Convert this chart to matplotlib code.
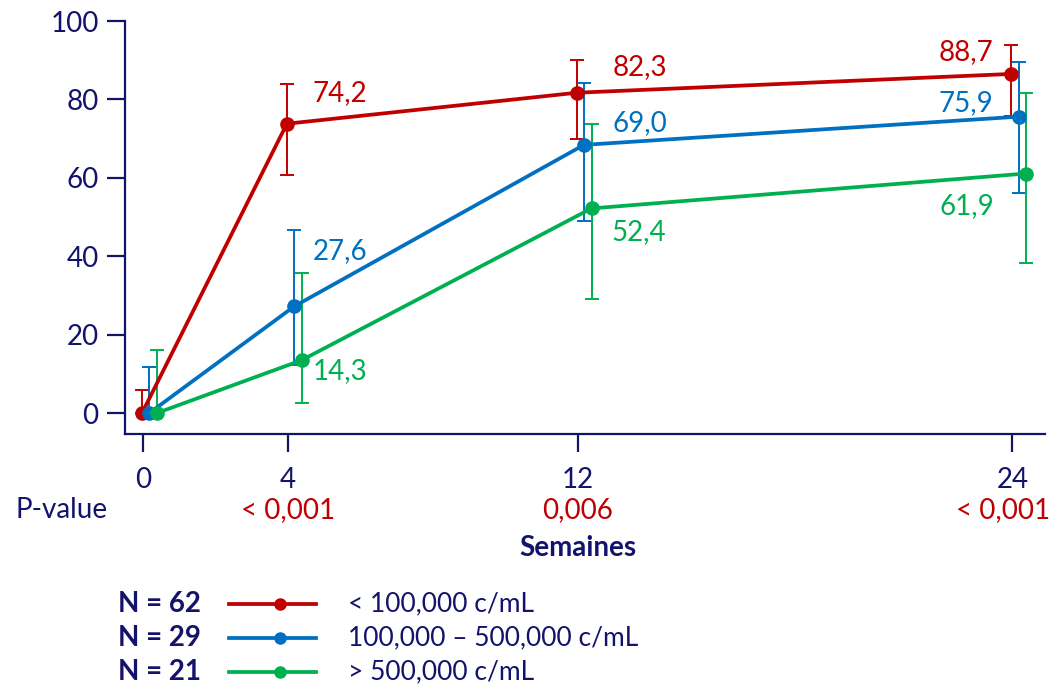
import matplotlib
matplotlib.use("Agg")
import matplotlib.pyplot as plt
from matplotlib.lines import Line2D

# ---- data ----
weeks = [0, 4, 12, 24]
week_labels = ["0", "4", "12", "24"]
p_values = ["", "< 0,001", "0,006", "< 0,001"]

series_names = ["< 100,000 c/mL", "100,000 \u2013 500,000 c/mL", "> 500,000 c/mL"]
series_n = ["N = 62", "N = 29", "N = 21"]

red_vals = [0, 73.8, 81.7, 86.5]
red_hi = [6.0, 84.0, 90.1, 93.9]
red_lo = [0, 60.8, 70.0, 75.8]
red_labels = ["", "74,2", "82,3", "88,7"]

blue_vals = [0, 27.2, 68.4, 75.6]
blue_hi = [11.8, 46.6, 84.2, 89.6]
blue_lo = [0, 12.2, 48.9, 56.2]
blue_labels = ["", "27,6", "69,0", "75,9"]

green_vals = [0, 13.5, 52.2, 61.1]
green_hi = [16.1, 35.6, 73.8, 81.7]
green_lo = [0, 2.5, 29.0, 38.2]
green_labels = ["", "14,3", "52,4", "61,9"]

# ---- style ----
NAVY = "#13136B"
RED = "#C00000"
BLUE = "#0070C0"
GREEN = "#00B050"
FONT = ["Lato", "DejaVu Sans"]
FS = 20
plt.rcParams["font.family"] = FONT

series = [
    dict(vals=red_vals, hi=red_hi, lo=red_lo, labels=red_labels, color=RED, dx=-0.03,
         offs=[None, (26, 31), (36, 26), (-18, 22)], ha=[None, "left", "left", "right"]),
    dict(vals=blue_vals, hi=blue_hi, lo=blue_lo, labels=blue_labels, color=BLUE, dx=0.17,
         offs=[None, (19, 55), (29, 22), (-25, 14)], ha=[None, "left", "left", "right"]),
    dict(vals=green_vals, hi=green_hi, lo=green_lo, labels=green_labels, color=GREEN, dx=0.38,
         offs=[None, (11, -11), (20, -24), (-32, -33)], ha=[None, "left", "left", "right"]),
]
p_shift = [0, 0, 0, -9]

fig = plt.figure(figsize=(10.55, 6.86), dpi=100)
ax = fig.add_axes([125 / 1055, 1 - 434 / 686, (1045 - 125) / 1055, (434 - 21) / 686])

for s in series:
    xs = [w + s["dx"] for w in weeks]
    yerr = [[v - l for v, l in zip(s["vals"], s["lo"])],
            [h - v for v, h in zip(s["vals"], s["hi"])]]
    ax.errorbar(xs, s["vals"], yerr=yerr, fmt="none", ecolor=s["color"],
                elinewidth=1.4, capsize=4.7, capthick=1.4, zorder=2)
    ax.plot(xs, s["vals"], color=s["color"], lw=2.7, marker="o", ms=9.5, zorder=3,
            clip_on=False)
    for x, v, lab, off, ha in zip(xs, s["vals"], s["labels"], s["offs"], s["ha"]):
        if lab:
            ax.annotate(lab, (x, v), xytext=off, textcoords="offset pixels",
                        ha=ha, va="center", color=s["color"], fontsize=FS)

ax.set_xlim(-0.5, 24.9)
ax.set_ylim(-5.34, 100)
ax.set_xticks(weeks)
ax.set_xticklabels(week_labels)
ax.set_yticks([0, 20, 40, 60, 80, 100])
for sp in ["top", "right"]:
    ax.spines[sp].set_visible(False)
for sp in ["left", "bottom"]:
    ax.spines[sp].set_color(NAVY)
    ax.spines[sp].set_linewidth(1.6)
ax.tick_params(axis="both", colors=NAVY, labelcolor=NAVY, labelsize=FS,
               length=13, width=1.6, direction="out")
ax.tick_params(axis="x", pad=11)
ax.tick_params(axis="y", pad=6)

# P-value row
fig.text(15 / 1055, 1 - 510 / 686, "P-value", color=NAVY, fontsize=FS,
         ha="left", va="center")
for w, p, sh in zip(weeks, p_values, p_shift):
    if p:
        ax.annotate(p, (w, 0), xycoords=("data", "axes fraction"), xytext=(sh, -76),
                    textcoords="offset pixels", ha="center", va="center",
                    color=RED, fontsize=FS)
ax.annotate("Semaines", (12, 0), xycoords=("data", "axes fraction"), xytext=(0, -114),
            textcoords="offset pixels", ha="center", va="center",
            color=NAVY, fontsize=FS, fontweight="bold")

# custom legend
leg_y = [604, 638, 672]
for s, n, name, y in zip(series, series_n, series_names, leg_y):
    yf = 1 - y / 686
    fig.text(118 / 1055, yf, n, color=NAVY, fontsize=FS, fontweight="bold",
             ha="left", va="center")
    fig.add_artist(Line2D([229 / 1055, 316 / 1055], [yf, yf], color=s["color"], lw=2.7,
                          transform=fig.transFigure))
    fig.add_artist(Line2D([280 / 1055], [yf], color=s["color"], marker="o", ms=8,
                          transform=fig.transFigure))
    fig.text(348 / 1055, yf, name, color=NAVY, fontsize=19, ha="left", va="center")

fig.savefig("out.png", dpi=100)
